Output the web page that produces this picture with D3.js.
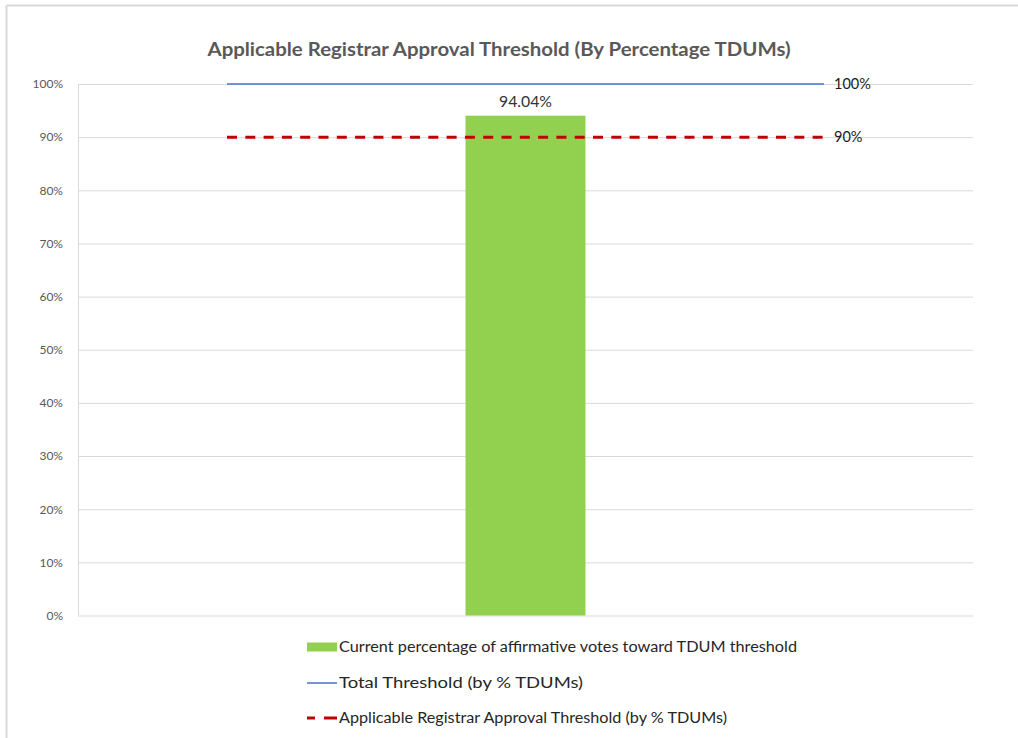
<!DOCTYPE html>
<html><head><meta charset="utf-8">
<script src="https://cdn.jsdelivr.net/npm/d3@7"></script>
<style>html,body{margin:0;padding:0;background:#fff;}svg{display:block;}</style>
</head><body>
<svg id="chart" width="1018" height="738"></svg>
<script>
const title = "Applicable Registrar Approval Threshold (By Percentage TDUMs)";
const categories = [""];
const barValues = [0.9404];
const barLabels = ["94.04%"];
const totalThreshold = [{x:0.1665,y:1.0},{x:0.8335,y:1.0}];
const approvalThreshold = [{x:0.1665,y:0.9},{x:0.8335,y:0.9}];
const thresholdLabels = ["100%","90%"];
const yTicks = [0,0.1,0.2,0.3,0.4,0.5,0.6,0.7,0.8,0.9,1.0];
const legendLabels = [
  "Current percentage of affirmative votes toward TDUM threshold",
  "Total Threshold (by % TDUMs)",
  "Applicable Registrar Approval Threshold (by % TDUMs)"
];

const FONT = "Lato, 'Open Sans', sans-serif";
const svg = d3.select("#chart");
const M = {left:78, right:973, top:84, bottom:615.5};

// frame (top + left border)
svg.append("line").attr("x1",6.5).attr("x2",1018).attr("y1",5.5).attr("y2",5.5).attr("stroke","#d9d9d9").attr("stroke-width",2);
svg.append("line").attr("x1",6.5).attr("x2",6.5).attr("y1",5.5).attr("y2",738).attr("stroke","#d9d9d9").attr("stroke-width",2);

const y = d3.scaleLinear().domain([0,1]).range([M.bottom,M.top]);
const xb = d3.scaleBand().domain(categories).range([M.left,M.right]).paddingInner(0).paddingOuter(3.23);
const xl = d3.scaleLinear().domain([0,1]).range([M.left,M.right]);

// title
svg.append("text").attr("x",499).attr("y",56).attr("text-anchor","middle")
  .attr("font-family",FONT).attr("font-weight","bold").attr("font-size",18).attr("fill","#595959")
  .attr("textLength",583).attr("lengthAdjust","spacingAndGlyphs").text(title);

// gridlines + y axis
const yAxis = d3.axisLeft(y).tickValues(yTicks).tickFormat(d3.format(".0%")).tickSize(-(M.right-M.left)).tickPadding(15);
const gA = svg.append("g").attr("transform",`translate(${M.left},0)`).call(yAxis);
gA.select(".domain").attr("stroke","#d9d9d9").attr("d",`M0.5,${M.top}V${M.bottom}`);
gA.selectAll(".tick line").attr("stroke","#d9d9d9").attr("stroke-width",1);
gA.selectAll(".tick text").attr("font-family",FONT).attr("font-size",12).attr("fill","#595959");

// bar
svg.append("g").selectAll("rect").data(barValues).join("rect")
  .attr("x",(d,i)=>xb(categories[i])).attr("width",xb.bandwidth())
  .attr("y",d=>y(d)).attr("height",d=>y(0)-y(d)).attr("fill","#92D050");
svg.append("g").selectAll("text").data(barValues).join("text")
  .attr("x",(d,i)=>xb(categories[i])+xb.bandwidth()/2).attr("y",d=>y(d)-9)
  .attr("text-anchor","middle").attr("font-family",FONT).attr("font-size",15).attr("fill","#333333")
  .attr("textLength",53).attr("lengthAdjust","spacingAndGlyphs")
  .text((d,i)=>barLabels[i]);

// threshold lines
const line = d3.line().x(d=>xl(d.x)).y(d=>y(d.y));
svg.append("path").datum(totalThreshold).attr("d",line).attr("fill","none").attr("stroke","#4472C4").attr("stroke-width",1.5);
svg.append("path").datum(approvalThreshold).attr("d",line).attr("fill","none").attr("stroke","#C00000").attr("stroke-width",3).attr("stroke-dasharray","10,8.3");

[totalThreshold, approvalThreshold].forEach((s,i)=>{
  const last = s[s.length-1];
  svg.append("text").attr("x",xl(last.x)+10).attr("y",y(last.y)+5)
    .attr("font-family",FONT).attr("font-size",14.5).attr("fill","#1a1a1a").text(thresholdLabels[i]);
});

// legend
const lg = svg.append("g").attr("transform","translate(307,0)");
const rowsY = [647, 683, 718];
const lens = [458, 244, 388];
lg.append("rect").attr("x",0).attr("y",rowsY[0]-4.5).attr("width",30).attr("height",9).attr("fill","#92D050");
lg.append("line").attr("x1",0).attr("x2",30).attr("y1",rowsY[1]).attr("y2",rowsY[1]).attr("stroke","#4472C4").attr("stroke-width",1.5);
lg.append("line").attr("x1",0).attr("x2",30).attr("y1",rowsY[2]).attr("y2",rowsY[2]).attr("stroke","#C00000").attr("stroke-width",3).attr("stroke-dasharray","8,9,13");
legendLabels.forEach((t,i)=>{
  lg.append("text").attr("x",32).attr("y",rowsY[i]+5).attr("font-family",FONT).attr("font-size",14.5).attr("fill","#262626")
    .attr("textLength",lens[i]).attr("lengthAdjust","spacingAndGlyphs").text(t);
});
</script>
</body></html>
